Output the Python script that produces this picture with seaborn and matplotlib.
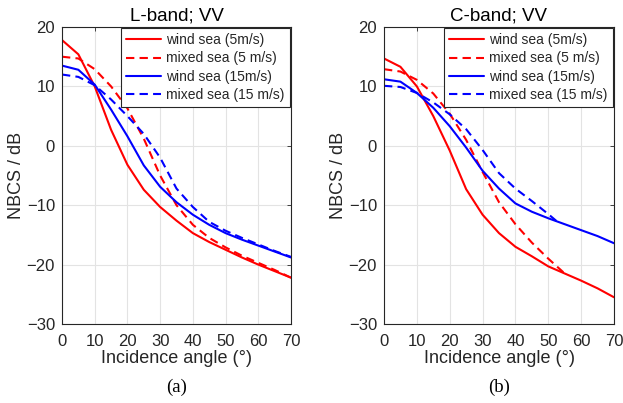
import numpy as np
import pandas as pd
import matplotlib
matplotlib.use("Agg")
import matplotlib.pyplot as plt
import seaborn as sns

# ---------------- data ----------------
angles = [0, 5, 10, 15, 20, 25, 30, 35, 40, 45, 50, 55, 60, 65, 70]

# L-band
L_wind5 = [17.8, 15.4, 10.0, 2.7, -3.2, -7.4, -10.3, -12.6, -14.7, -16.2, -17.5, -18.8, -20.0, -21.1, -22.2]
L_mixed5 = [15.0, 14.7, 12.9, 10.0, 6.3, 1.2, -5.0, -10.0, -13.3, -15.5, -17.1, -18.5, -19.7, -20.9, -22.2]
L_wind15 = [13.5, 12.8, 10.3, 6.1, 1.6, -3.3, -6.9, -9.5, -11.6, -13.3, -14.7, -15.8, -16.8, -17.8, -18.8]
L_mixed15 = [12.0, 11.6, 10.2, 7.8, 5.0, 2.0, -2.0, -7.2, -10.3, -12.8, -14.3, -15.5, -16.6, -17.7, -18.7]

# C-band
C_wind5 = [14.7, 13.3, 10.0, 5.0, -0.8, -7.3, -11.6, -14.7, -17.0, -18.6, -20.3, -21.5, -22.7, -24.0, -25.5]
C_mixed5_x = [0, 5, 10, 15, 20, 25, 30, 35, 40, 45, 50, 55]
C_mixed5 = [12.9, 12.5, 11.1, 8.8, 5.4, 1.0, -4.4, -9.5, -13.2, -16.3, -19.0, -21.5]
C_wind15 = [11.2, 10.8, 8.9, 6.4, 3.3, -0.3, -4.2, -7.2, -9.7, -11.1, -12.2, -13.2, -14.2, -15.2, -16.4]
C_mixed15_x = [0, 5, 10, 15, 20, 25, 30, 35, 40, 45, 50, 53]
C_mixed15 = [10.1, 9.9, 8.9, 7.3, 5.3, 2.8, -0.7, -4.6, -7.2, -9.3, -11.5, -12.9]

labels = ["wind sea (5m/s)", "mixed sea (5 m/s)", "wind sea (15m/s)", "mixed sea (15 m/s)"]
titles = ["L-band; VV", "C-band; VV"]
panel_tags = ["(a)", "(b)"]
xticks = [0, 10, 20, 30, 40, 50, 60, 70]
yticks = [-30, -20, -10, 0, 10, 20]

panels = [
    [(angles, L_wind5), (angles, L_mixed5), (angles, L_wind15), (angles, L_mixed15)],
    [(angles, C_wind5), (C_mixed5_x, C_mixed5), (angles, C_wind15), (C_mixed15_x, C_mixed15)],
]
colors = ["#ff0000", "#ff0000", "#0000ff", "#0000ff"]
styles = ["-", "--", "-", "--"]

# ---------------- style ----------------
sns.set_style("white")
plt.rcParams["font.family"] = ["Liberation Sans", "DejaVu Sans"]
text_col = "#262626"

fig = plt.figure(figsize=(6.23, 4.03), dpi=100)
W, H = 623, 403
rects = [
    [62 / W, (H - 324) / H, 229 / W, 297 / H],
    [384 / W, (H - 324) / H, 230 / W, 297 / H],
]

for i in range(2):
    ax = fig.add_axes(rects[i])
    for (xs, ys), lab, c, ls in zip(panels[i], labels, colors, styles):
        df = pd.DataFrame({"x": xs, "y": ys})
        sns.lineplot(data=df, x="x", y="y", ax=ax, color=c, linewidth=1.5,
                     label=lab, estimator=None, sort=False)
        line = ax.lines[-1]
        if ls == "--":
            line.set_linestyle((0, (4, 2.5)))
    ax.set_xlim(0, 70)
    ax.set_ylim(-30, 20)
    ax.set_xticks(xticks)
    ax.set_yticks(yticks)
    ax.grid(True, color="#e3e3e3", linewidth=0.8)
    ax.set_axisbelow(True)
    for sp in ax.spines.values():
        sp.set_visible(True)
        sp.set_color(text_col)
        sp.set_linewidth(0.8)
    ax.tick_params(direction="in", length=3, width=0.6, colors=text_col,
                   labelsize=12, top=True, right=True)
    ax.tick_params(axis="x", pad=7)
    ax.tick_params(axis="y", pad=5)
    ax.set_xlabel("Incidence angle (°)", fontsize=13, color=text_col, labelpad=1)
    ax.set_ylabel("NBCS / dB", fontsize=13, color=text_col, labelpad=1)
    ax.set_title(titles[i], fontsize=13.5, color="black", pad=5)
    leg = ax.legend(loc="upper right", fontsize=10, frameon=True, fancybox=False,
                    framealpha=1, edgecolor=text_col, handlelength=2.5,
                    handletextpad=0.4, borderpad=0.35, labelspacing=0.3,
                    borderaxespad=0.1)
    leg.get_frame().set_linewidth(0.8)
    for t in leg.get_texts():
        t.set_color(text_col)
    ax.text(0.5, -0.183, panel_tags[i], transform=ax.transAxes, ha="center",
            va="top", fontsize=13.5, family=["Liberation Serif", "DejaVu Serif"],
            color="black")

fig.savefig("out.png", dpi=100)
